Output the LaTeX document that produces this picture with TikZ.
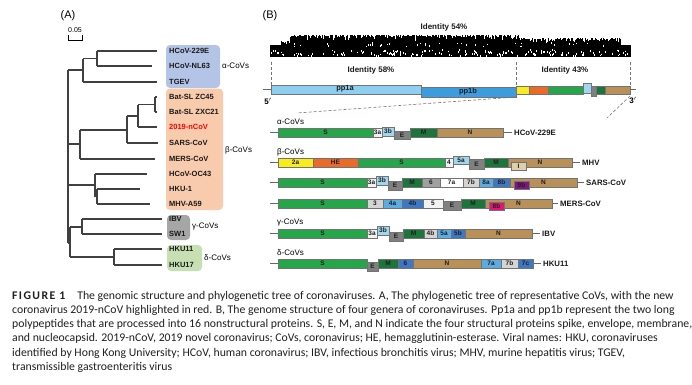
\documentclass[tikz,border=0pt]{standalone}
\usepackage{fontspec}
\setmainfont{Liberation Sans}
\newfontfamily\capfont{Carlito}
\definecolor{cS}{RGB}{38,166,74}
\definecolor{cM}{RGB}{28,117,58}
\definecolor{cN}{RGB}{184,144,88}
\definecolor{cE}{RGB}{128,128,128}
\definecolor{cHE}{RGB}{234,106,42}
\definecolor{cY}{RGB}{248,236,30}
\definecolor{cLB}{RGB}{160,214,238}
\definecolor{cMB}{RGB}{92,172,226}
\definecolor{cB}{RGB}{62,120,196}
\definecolor{cW}{RGB}{242,242,242}
\definecolor{cLG}{RGB}{212,212,212}
\definecolor{cGs}{RGB}{160,160,160}
\definecolor{cPur}{RGB}{130,20,130}
\definecolor{cMag}{RGB}{226,20,120}
\definecolor{cI}{RGB}{222,206,170}
\definecolor{cPa}{RGB}{142,206,240}
\definecolor{cPb}{RGB}{60,156,222}
\definecolor{bxA}{RGB}{180,196,230}
\definecolor{bxB}{RGB}{248,203,173}
\definecolor{bxG}{RGB}{166,166,166}
\definecolor{bxD}{RGB}{198,224,180}
\newcommand{\orf}[7]{%
  \filldraw[orfbox, fill=#6] (#2,#4) rectangle (#3,#5);
  \node[orflab] (#1) at ({(#2+#3)/2},{(#4+#5)/2}) {#7};
}
\begin{document}
\begin{tikzpicture}[x=1pt,y=-1pt,
  br/.style={line width=1.1pt, draw=black!75},
  leaf/.style={font=\bfseries\fontsize{7.5}{9}\selectfont, anchor=west, inner sep=0, text=black!90},
  clade/.style={font=\fontsize{8}{9}\selectfont, anchor=west, inner sep=0},
  cbox/.style={rounded corners=4pt, draw=none},
  orfbox/.style={draw=black!55, line width=0.6pt},
  orflab/.style={font=\bfseries\fontsize{6.5}{7}\selectfont, inner sep=0, text=black!88},
  glab/.style={font=\bfseries\fontsize{7.8}{9}\selectfont, anchor=west, inner sep=0, text=black!90},
  ident/.style={font=\bfseries\fontsize{8}{9}\selectfont, inner sep=0, text=black!90},
  panel/.style={font=\fontsize{11}{12}\selectfont, inner sep=0},
  gline/.style={draw=black!60, line width=0.6pt},
  vdash/.style={draw=black!55, line width=0.6pt, dash pattern=on 3pt off 2pt},
  captxt/.style={font=\capfont\fontsize{11.75}{13}\selectfont, anchor=west, inner sep=0, text=black!88}
]
\useasboundingbox (0,0) rectangle (692,384);

% ---------- Panel A ----------
\node[panel] (pA) at (68,16) {(A)};
\node[font=\fontsize{7}{8}\selectfont, inner sep=0] (scl) at (75,30) {0.05};
\draw[line width=0.7pt] (68,35) -- (68,40) -- (82,40) -- (82,35);

% clade boxes
\fill[cbox, fill=bxA] (166,45) rectangle (220,88);
\fill[cbox, fill=bxB] (166,88.5) rectangle (223,210);
\fill[cbox, fill=bxG] (167,215) rectangle (190,240);
\fill[cbox, fill=bxD] (167,245) rectangle (202,271);

% tree
\draw[br] (97,51) -- (157,51);
\draw[br] (97,66) -- (152,66);
\draw[br] (97,51) -- (97,66);
\draw[br] (83,58.5) -- (97,58.5);
\draw[br] (83,58.5) -- (83,82);
\draw[br] (83,82) -- (157,82);
\draw[br] (68,70) -- (83,70);
\draw[br] (68,70) -- (68,243);
\draw[br] (155,97) -- (157,97);
\draw[br] (155,112) -- (157,112);
\draw[br] (155,97) -- (155,112);
\draw[br] (138,104.5) -- (155,104.5);
\draw[br] (138,104.5) -- (138,127);
\draw[br] (138,127) -- (157,127);
\draw[br] (127,116) -- (138,116);
\draw[br] (127,116) -- (127,143);
\draw[br] (127,143) -- (158,143);
\draw[br] (80,130) -- (127,130);
\draw[br] (80,130) -- (80,159);
\draw[br] (80,159) -- (155,159);
\draw[br] (68,144) -- (80,144);
\draw[br] (95,174) -- (147,174);
\draw[br] (95,174) -- (95,196.5);
\draw[br] (95,196.5) -- (97,196.5);
\draw[br] (97,189) -- (97,204);
\draw[br] (97,189) -- (140,189);
\draw[br] (97,204) -- (150,204);
\draw[br] (68,185) -- (95,185);
\draw[br] (68,243) -- (70,243);
\draw[br] (70,227) -- (70,257);
\draw[br] (70,227) -- (82,227);
\draw[br] (82,219) -- (82,234);
\draw[br] (82,219) -- (162,219);
\draw[br] (82,234) -- (162,234);
\draw[br] (70,257) -- (114,257);
\draw[br] (114,249) -- (114,265);
\draw[br] (114,249) -- (162,249);
\draw[br] (114,265) -- (162,265);

% leaves
\node[leaf] (l1) at (169,51) {HCoV-229E};
\node[leaf] (l2) at (169,66) {HCoV-NL63};
\node[leaf] (l3) at (169,82) {TGEV};
\node[leaf] (l4) at (169,97) {Bat-SL ZC45};
\node[leaf] (l5) at (169,112) {Bat-SL ZXC21};
\node[leaf, text=red] (l6) at (169,127) {2019-nCoV};
\node[leaf] (l7) at (169,143) {SARS-CoV};
\node[leaf] (l8) at (169,159) {MERS-CoV};
\node[leaf] (l9) at (169,174) {HCoV-OC43};
\node[leaf] (l10) at (169,189) {HKU-1};
\node[leaf] (l11) at (169,204) {MHV-A59};
\node[leaf] (l12) at (169,219) {IBV};
\node[leaf] (l13) at (169,234) {SW1};
\node[leaf] (l14) at (169,249) {HKU11};
\node[leaf] (l15) at (169,265) {HKU17};
\node[clade] (ca) at (222,66) {α-CoVs};
\node[clade] (cb) at (225,150) {β-CoVs};
\node[clade] (cg) at (192,227) {γ-CoVs};
\node[clade] (cd) at (204,258) {δ-CoVs};

% ---------- Panel B ----------
\node[panel] (pB) at (270,16) {(B)};
\node[ident] (i54) at (444,27) {Identity 54\%};
% identity noise bar
\fill[black] (270,45) rectangle (631,57);
\pgfmathsetseed{42}
\foreach \i in {0,...,720} {
  \pgfmathsetmacro\xx{270+\i*0.5}
  \pgfmathsetmacro\bs{\xx<281 ? 46 : (\xx<290 ? 41 : (\xx>620 ? 48 : (\xx>518 ? 38 : 35)))}
  \pgfmathsetmacro\tp{\bs+9*rnd*rnd}
  \draw[line width=0.55pt] (\xx,45.5) -- (\xx,\tp);
}
\foreach \i in {1,...,170} {
  \pgfmathsetmacro\xx{271+359*rnd}
  \pgfmathsetmacro\yy{49+6*rnd}
  \draw[white, line width=0.45pt] (\xx,\yy) -- (\xx,\yy+1.8);
}
\foreach \i in {1,...,40} {
  \pgfmathsetmacro\xx{290+320*rnd}
  \pgfmathsetmacro\yy{42+4*rnd}
  \draw[white, line width=0.4pt] (\xx,\yy) -- (\xx,\yy+1.5);
}
\draw[vdash] (271,62) -- (271,85);
\draw[vdash] (516,62) -- (516,85);
\draw[vdash] (630,62) -- (630,85);
\node[ident] (i58) at (371,70) {Identity 58\%};
\node[ident] (i43) at (565,70) {Identity 43\%};

% genome
\draw[gline] (263,89.5) -- (636,89.5);
\filldraw[orfbox, fill=cPa] (271,85) rectangle (421,94);
\node[orflab, font=\bfseries\fontsize{7.5}{9}\selectfont] (pp1a) at (345,88.5) {pp1a};
\filldraw[orfbox, fill=cPb] (421,87.5) rectangle (516,97);
\node[orflab, font=\bfseries\fontsize{7.5}{9}\selectfont] (pp1b) at (468,92) {pp1b};
\filldraw[orfbox, fill=cY] (516,86) rectangle (529,94);
\filldraw[orfbox, fill=cHE] (529,86) rectangle (548,94);
\filldraw[orfbox, fill=cS] (548,86) rectangle (583,94);
\filldraw[orfbox, fill=cLB] (583,83) rectangle (591,93);
\filldraw[orfbox, fill=cE] (591,86) rectangle (596,96);
\filldraw[orfbox, fill=cM] (596,86) rectangle (605,94);
\filldraw[orfbox, fill=cN] (605,86) rectangle (630,94);
\node[font=\bfseries\fontsize{8}{9}\selectfont, inner sep=0] (p5) at (268,101) {5$'$};
\node[font=\bfseries\fontsize{8}{9}\selectfont, inner sep=0] (p3) at (633,100) {3$'$};
\draw[vdash] (516,97) -- (297,113);
\draw[vdash] (630,96) -- (607,118);

% alpha row
\node[clade] (ga) at (277,122) {α-CoVs};
\draw[gline] (270,132.5) -- (278,132.5);
\draw[gline] (503,132.5) -- (512,132.5);
\orf{aS}{278}{373}{128}{137}{cS}{S}
\orf{a3a}{373}{382}{128}{137}{cW}{3a}
\orf{a3b}{382}{394}{127}{136}{cLB}{3b}
\orf{aE}{394}{410}{131}{139}{cE}{E}
\orf{aM}{410}{437}{128}{137}{cM}{M}
\orf{aN}{437}{503}{128}{137}{cN}{N}
\node[glab] (gaL) at (514,132.5) {HCoV-229E};

% beta rows
\node[clade] (gb) at (277,152) {β-CoVs};
\draw[gline] (270,162.5) -- (278,162.5);
\draw[gline] (572,162.5) -- (580,162.5);
\orf{m2a}{278}{313}{158}{167}{cY}{2a}
\orf{mHE}{313}{358}{158}{167}{cHE}{HE}
\orf{mS}{358}{445}{158}{167}{cS}{S}
\orf{m4}{445}{453}{158}{167}{cW}{4}
\orf{m5a}{453}{469}{156}{164}{cLB}{5a}
\orf{mE}{469}{484}{159}{169}{cE}{E}
\orf{mM}{484}{508}{158}{167}{cM}{M}
\orf{mN}{508}{572}{158}{167}{cN}{N}
\orf{mI}{511}{526}{162}{170}{cI}{I}
\node[glab] (gmL) at (582,162.5) {MHV};

\draw[gline] (270,182.5) -- (278,182.5);
\draw[gline] (577,182.5) -- (584,182.5);
\orf{sS}{278}{367}{178}{187}{cS}{S}
\orf{s3a}{367}{376}{178}{187}{cW}{3a}
\orf{s3b}{376}{388}{176}{185}{cLB}{3b}
\orf{sE}{388}{402}{181}{190}{cE}{E}
\orf{sM}{402}{422}{178}{187}{cM}{M}
\orf{s6}{422}{440}{178}{187}{cGs}{6}
\orf{s7a}{440}{463}{178}{187}{white}{7a}
\orf{s7b}{463}{479}{178}{187}{cLG}{7b}
\orf{s8a}{479}{493}{178}{187}{cMB}{8a}
\orf{s8b}{493}{510}{178}{187}{cB}{8b}
\orf{sN}{510}{577}{178}{187}{cN}{N}
\orf{s9b}{514}{529}{181}{189}{cPur}{9b}
\node[glab] (gsL) at (586,182.5) {SARS-CoV};

\draw[gline] (270,203.5) -- (278,203.5);
\draw[gline] (552,203.5) -- (558,203.5);
\orf{eS}{278}{367}{199}{208}{cS}{S}
\orf{e3}{367}{383}{199}{208}{cLG}{3}
\orf{e4a}{383}{402}{199}{208}{cMB}{4a}
\orf{e4b}{402}{423}{199}{208}{cB}{4b}
\orf{e5}{423}{443}{199}{208}{cW}{5}
\orf{eE}{443}{461}{201}{210}{cE}{E}
\orf{eM}{461}{485}{199}{208}{cM}{M}
\orf{eN}{485}{552}{199}{208}{cN}{N}
\orf{e8b}{489}{504}{202}{210}{cMag}{8b}
\node[glab] (geL) at (560,203.5) {MERS-CoV};

% gamma row
\node[clade] (gg) at (277,223) {γ-CoVs};
\draw[gline] (270,233.5) -- (278,233.5);
\draw[gline] (532,233.5) -- (540,233.5);
\orf{iS}{278}{367}{229}{238}{cS}{S}
\orf{i3a}{367}{377}{229}{238}{cW}{3a}
\orf{i3b}{377}{389}{226}{235}{cLB}{3b}
\orf{iE}{389}{403}{232}{241}{cE}{E}
\orf{iM}{403}{424}{229}{238}{cM}{M}
\orf{i4b}{424}{437}{229}{238}{cLG}{4b}
\orf{i5a}{437}{451}{229}{238}{cMB}{5a}
\orf{i5b}{451}{465}{229}{238}{cB}{5b}
\orf{iN}{465}{532}{229}{238}{cN}{N}
\node[glab] (giL) at (542,233.5) {IBV};

% delta row
\node[clade] (gd) at (277,253) {δ-CoVs};
\draw[gline] (270,263.5) -- (278,263.5);
\draw[gline] (533,263.5) -- (541,263.5);
\orf{hS}{278}{367}{259}{268}{cS}{S}
\orf{hE}{367}{378}{262}{271}{cE}{E}
\orf{hM}{378}{398}{259}{268}{cM}{M}
\orf{h6}{398}{413}{259}{268}{cB}{6}
\orf{hN}{413}{481}{259}{268}{cN}{N}
\orf{h7a}{481}{501}{259}{268}{cMB}{7a}
\orf{h7b}{501}{518}{259}{268}{cLG}{7b}
\orf{h7c}{518}{533}{259}{268}{cB}{7c}
\node[glab] (ghL) at (543,263.5) {HKU11};

% ---------- caption ----------
\node[captxt] (c1) at (12,296) {{\bfseries\addfontfeatures{LetterSpace=12}FIGURE 1}\hspace{12pt}The genomic structure and phylogenetic tree of coronaviruses. A, The phylogenetic tree of representative CoVs, with the new};
\node[captxt] (c2) at (12,310.3) {coronavirus 2019-nCoV highlighted in red. B, The genome structure of four genera of coronaviruses. Pp1a and pp1b represent the two long};
\node[captxt] (c3) at (12,324.6) {polypeptides that are processed into 16 nonstructural proteins. S, E, M, and N indicate the four structural proteins spike, envelope, membrane,};
\node[captxt] (c4) at (12,338.9) {and nucleocapsid. 2019-nCoV, 2019 novel coronavirus; CoVs, coronavirus; HE, hemagglutinin-esterase. Viral names: HKU, coronaviruses};
\node[captxt] (c5) at (12,353.2) {identified by Hong Kong University; HCoV, human coronavirus; IBV, infectious bronchitis virus; MHV, murine hepatitis virus; TGEV,};
\node[captxt] (c6) at (12,367.5) {transmissible gastroenteritis virus};
\end{tikzpicture}
\end{document}
